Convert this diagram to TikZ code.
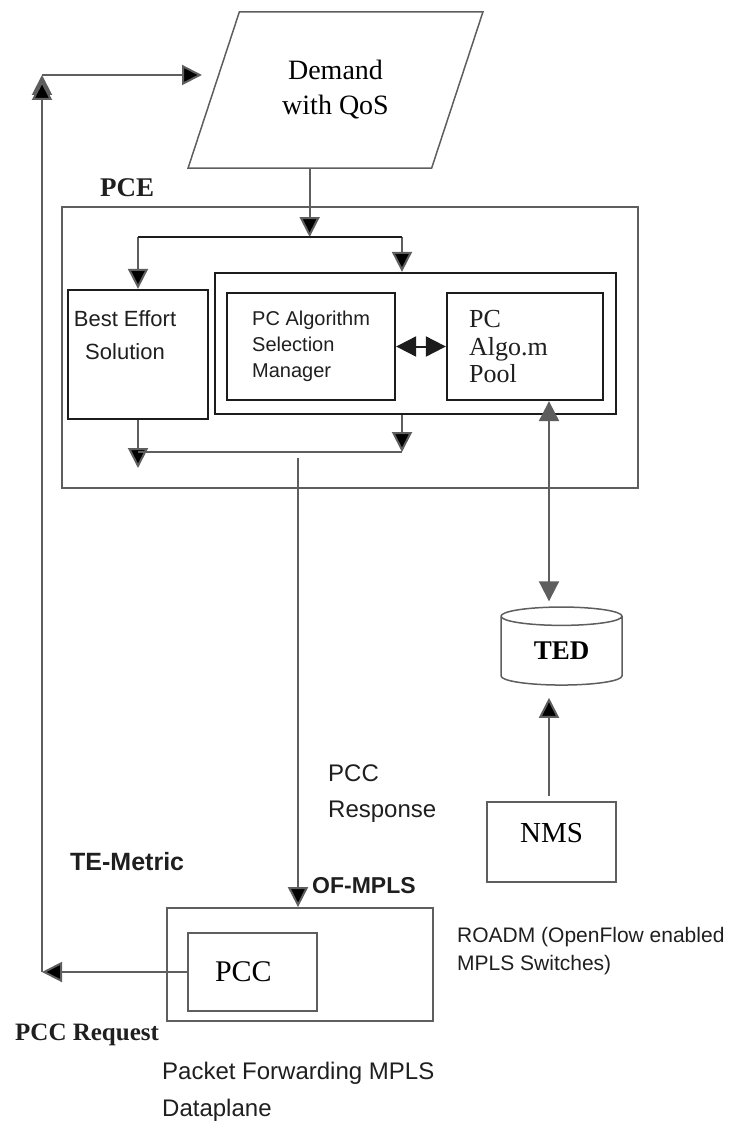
\documentclass[tikz,border=0pt]{standalone}
\usepackage{fontspec}
\setmainfont{Liberation Serif}
\setsansfont{Liberation Sans}
\usetikzlibrary{positioning}
\usetikzlibrary{calc}
\usetikzlibrary{arrows.meta}
\usetikzlibrary{shapes.geometric}
\definecolor{lgray}{HTML}{5E5E5E}
\definecolor{dgray}{HTML}{1C1C1C}
\tikzset{
gbox/.style={
  rectangle,
  inner sep=0pt,
  draw=lgray,
  line width=1.8pt,
  fill=white
  },
bbox/.style={
  rectangle,
  inner sep=0pt,
  draw=dgray,
  line width=2.3pt,
  fill=white
  },
txt/.style={
  inner sep=0pt,
  text=black!88
  },
conn/.style={
  draw=lgray,
  line width=2pt
  }
}

\begin{document}
\begin{tikzpicture}[x=1pt,y=-1pt,>={Triangle[length=20pt,width=20pt]}]
        \useasboundingbox (0,0) rectangle (729,1129);
        % demand input
        \node[trapezium,trapezium left angle=64.3,trapezium right angle=115.7,trapezium stretches=true,
              minimum width=295,minimum height=156,draw=lgray,line width=1.5pt,inner sep=0pt,
              align=center,font=\fontsize{28}{35}\selectfont] at (335.5,90) (demand) {Demand\\with QoS};
        % PCE block
        \node[txt,anchor=base west,font=\bfseries\fontsize{27}{27}\selectfont] at (100,196) (pcelbl) {PCE};
        \node[gbox,minimum width=576,minimum height=281] at (350,347.5) (pce) {};
        \node[bbox,minimum width=140,minimum height=129] at (138,354.5) (best) {};
        \node[bbox,minimum width=401,minimum height=141] at (415.5,343.5) (inner) {};
        \node[bbox,minimum width=168,minimum height=107] at (311,346.5) (alg) {};
        \node[bbox,minimum width=156,minimum height=107] at (525,346.5) (pool) {};
        \node[txt,anchor=north,align=center,font=\sffamily\fontsize{22}{33}\selectfont] at (125,310) (besttxt) {Best Effort\\Solution};
        \node[txt,anchor=north west,align=left,font=\sffamily\fontsize{20}{26}\selectfont] at (252,311) (algtxt) {PC Algorithm\\Selection\\Manager};
        \node[txt,anchor=north west,align=left,font=\fontsize{26}{27.5}\selectfont] at (469,310.5) (pooltxt) {PC\\Algo.m\\Pool};
        % TED and NMS
        \node[cylinder,shape border rotate=90,aspect=0.33,minimum width=121,minimum height=78,
              draw=lgray,line width=1.5pt,inner sep=0pt,font=\bfseries\fontsize{27}{27}\selectfont] at (561.5,651) (ted) {TED};
        \node[gbox,minimum width=129,minimum height=80,text height=20pt,text depth=20pt,
              font=\fontsize{29}{29}\selectfont] at (551.5,842) (nms) {NMS};
        % switch
        \node[gbox,minimum width=266,minimum height=113] at (300,964.5) (ofmpls) {};
        \node[gbox,minimum height=78,text width=75pt,inner xsep=27pt,align=left,
              font=\fontsize{30}{30}\selectfont] at (252.5,972) (pcc) {PCC};
        % free labels
        \node[txt,anchor=north west,align=left,font=\sffamily\fontsize{24}{36}\selectfont] at (328,765) (resplbl) {PCC\\Response};
        \node[txt,anchor=base west,font=\sffamily\bfseries\fontsize{25}{25}\selectfont] at (70,870) (telbl) {TE-Metric};
        \node[txt,anchor=base west,font=\sffamily\bfseries\fontsize{23}{23}\selectfont] at (312,893) (oflbl) {OF-MPLS};
        \node[txt,anchor=north west,align=left,font=\sffamily\fontsize{21}{28}\selectfont] at (457,927) (roadm) {ROADM (OpenFlow enabled\\MPLS Switches)};
        \node[txt,anchor=base west,font=\bfseries\fontsize{25}{25}\selectfont] at (15,1040) (reqlbl) {PCC Request};
        \node[txt,anchor=north west,align=left,font=\sffamily\fontsize{24}{37}\selectfont] at (162,1062) (fwdlbl) {Packet Forwarding MPLS\\Dataplane};
        % junctions
        \coordinate (split) at (demand.bottom side |- 0,237);
        \coordinate (splitL) at (best.north |- split);
        \coordinate (splitR) at (402,237);
        \coordinate (mergeR) at (402,452);
        \coordinate (mergeL) at (best.south |- mergeR);
        \coordinate (mergeTip) at (best.south |- 0,468);
        \coordinate (resp) at (298,458);
        \coordinate (dbx) at (549,0);
        \coordinate (bend) at (pcc.west -| 42,0);
        \coordinate (looptop) at (42,80);
        \coordinate (loopL) at (42,75);
        \coordinate (loopR) at (202,75);
        \path[conn,->]
        (demand.bottom side) edge (split)
        (splitL) edge (best.north)
        (splitR) edge (splitR |- inner.north)
        (best.south) edge (mergeTip)
        (inner.south -| mergeR) edge (mergeR)
        (resp) edge (resp |- ofmpls.north)
        (nms.north -| dbx) edge [shorten <=5pt,shorten >=12pt] (ted.south -| dbx)
        (pcc.west) edge (bend)
        (bend) edge (looptop)
        (loopL) edge (loopR)
        ;
        \draw[conn,<->,shorten >=5pt] (pool.south -| dbx) -- (ted.north -| dbx);
        \draw[conn,draw=dgray] (splitL) -- (splitR);
        \draw[conn] (mergeL) -- (mergeR);
        \draw[conn,<->,draw=dgray] (alg.east) -- (pool.west);
    \end{tikzpicture}
\end{document}
